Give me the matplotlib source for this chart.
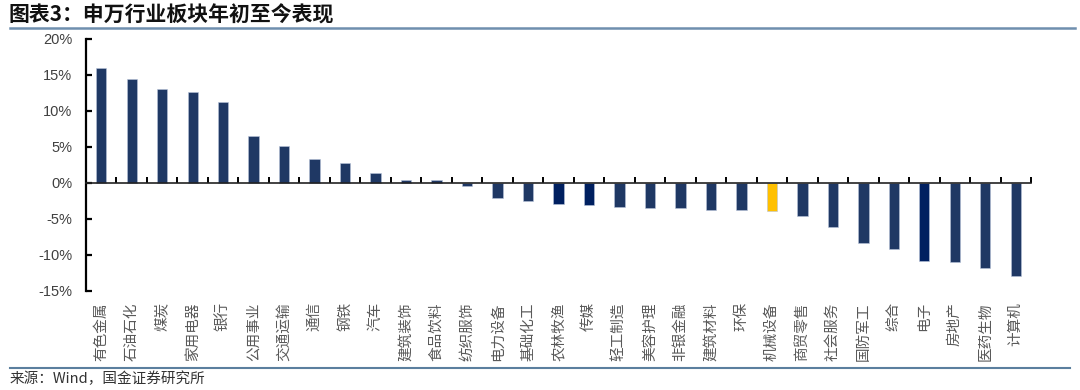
import matplotlib
matplotlib.use('Agg')
import matplotlib.pyplot as plt
from matplotlib.lines import Line2D

plt.rcParams['font.family'] = ['Liberation Sans', 'Noto Sans CJK SC', 'DejaVu Sans']

# Data
Industries = ['有色金属', '石油石化', '煤炭', '家用电器', '银行', '公用事业', '交通运输', '通信',
              '钢铁', '汽车', '建筑装饰', '食品饮料', '纺织服饰', '电力设备', '基础化工', '农林牧渔',
              '传媒', '轻工制造', '美容护理', '非银金融', '建筑材料', '环保', '机械设备', '商贸零售',
              '社会服务', '国防军工', '综合', '电子', '房地产', '医药生物', '计算机']
Returns = [16.0, 14.4, 13.1, 12.7, 11.3, 6.5, 5.1, 3.3, 2.8, 1.35, 0.45, 0.4, -0.4, -2.1,
           -2.5, -2.9, -3.1, -3.4, -3.5, -3.5, -3.7, -3.8, -3.9, -4.6, -6.1, -8.3, -9.2,
           -10.9, -11.0, -11.8, -12.9]
DarkOnes = ['农林牧渔', '传媒', '电子']
Highlight = '机械设备'
YTicks = [-15, -10, -5, 0, 5, 10, 15, 20]

BarColors = []
for name in Industries:
    if name == Highlight:
        BarColors.append('#FFC000')
    elif name in DarkOnes:
        BarColors.append('#002060')
    else:
        BarColors.append('#1F3864')

fig = plt.figure(figsize=(10.8, 3.9), dpi=100)
ax = fig.add_axes([86 / 1080, 1 - 291 / 390, (1031 - 86) / 1080, (291 - 39) / 390])

x = list(range(len(Industries)))
ax.bar(x, Returns, width=0.34, color=BarColors, edgecolor='#B8C4DA', linewidth=0.4)

ax.set_xlim(-0.5, len(Industries) - 0.5)
ax.set_ylim(-15, 20)
ax.set_yticks(YTicks)
ax.set_yticklabels([f'{t}%' for t in YTicks])

# spines: y axis on left, x axis line at zero
for side in ['top', 'right']:
    ax.spines[side].set_visible(False)
ax.spines['left'].set_linewidth(1.6)
ax.spines['bottom'].set_position(('data', 0))
ax.spines['bottom'].set_linewidth(1.2)
ax.spines['bottom'].set_color('#222222')

ax.tick_params(axis='y', direction='in', length=4, width=1.6, labelsize=10.5,
               labelcolor='#404040', pad=10)
ax.set_xticks([i + 0.5 for i in x])
ax.tick_params(axis='x', direction='in', length=4, width=1.4, labelbottom=False)

# category labels at the bottom of the axes
sec = ax.secondary_xaxis('bottom')
sec.set_xticks(x)
sec.set_xticklabels(Industries, rotation=90, family=['Noto Sans CJK SC', 'DejaVu Sans'],
                    fontsize=10.5, color='#595959')
sec.tick_params(axis='x', length=0, pad=8)
sec.spines['bottom'].set_visible(False)

# title, rules and source
fig.text(8 / 1080, 1 - 15 / 390, '图表3：申万行业板块年初至今表现', fontsize=15, fontweight='bold',
         family=['Noto Sans CJK SC', 'DejaVu Sans'], color='#111111', va='center', ha='left')
fig.add_artist(Line2D([10 / 1080, 1075 / 1080], [1 - 28 / 390, 1 - 28 / 390],
                      color='#6F8FAE', linewidth=1.8, transform=fig.transFigure))
fig.add_artist(Line2D([10 / 1080, 1070 / 1080], [1 - 368 / 390, 1 - 368 / 390],
                      color='#5B7F9E', linewidth=1.5, transform=fig.transFigure))
fig.text(10 / 1080, 1 - 379 / 390, '来源：Wind，国金证券研究所', fontsize=10.5,
         family=['Noto Sans CJK SC', 'DejaVu Sans'], color='#333333', va='center', ha='left')

fig.savefig('out.png', dpi=100)
